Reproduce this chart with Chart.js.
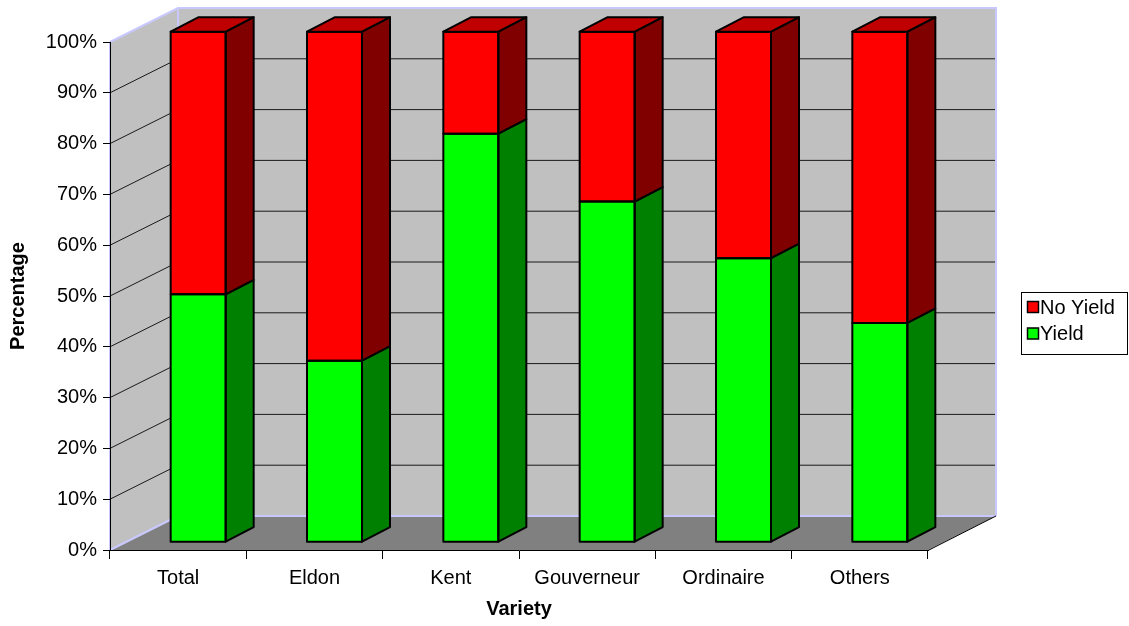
<!DOCTYPE html>
<html>
<head>
<meta charset="utf-8">
<script src="https://cdn.jsdelivr.net/npm/chart.js@4.4.1/dist/chart.umd.min.js"></script>
<style>
  html, body { margin: 0; padding: 0; background: #ffffff; }
  canvas { display: block; }
</style>
</head>
<body>
<canvas id="chart" width="1129" height="626"></canvas>
<script>
// ---- data ----
const categories = ['Total', 'Eldon', 'Kent', 'Gouverneur', 'Ordinaire', 'Others'];
const yieldPct   = [48.5, 35.5, 80.0, 66.7, 55.6, 42.9];
const noYieldPct = [51.5, 64.5, 20.0, 33.3, 44.4, 57.1];
const seriesNames = ['Yield', 'No Yield'];
const percentMin = 0;
const percentMax = 100;
const percentStep = 10;

// ---- 3D look ----
const WALL_DEPTH = { dx: 68, dy: -34 };   // front plane -> back wall
const BAR_DEPTH  = { dx: 28, dy: -14.5 }; // depth of each column
const BAR_SHIFT_X = 20;                   // column front face sits behind the axis plane
const BAR_BOTTOM_PX = 8.3;                // column base above the front floor edge
const PLOT_WIDTH = 818;
const PLOT_HEIGHT = 508;

const FONT = "'Liberation Sans', Arial, sans-serif";
Chart.defaults.font.family = FONT;
Chart.defaults.font.size = 20;
Chart.defaults.color = '#000000';

function poly(ctx, pts, fill, stroke, lw) {
  ctx.beginPath();
  ctx.moveTo(pts[0][0], pts[0][1]);
  for (let i = 1; i < pts.length; i++) ctx.lineTo(pts[i][0], pts[i][1]);
  ctx.closePath();
  if (fill) { ctx.fillStyle = fill; ctx.fill(); }
  if (stroke) { ctx.strokeStyle = stroke; ctx.lineWidth = lw || 1; ctx.lineJoin = 'round'; ctx.stroke(); }
}

// walls, floor, gridlines, column sides/tops and the legend box
const box3d = {
  id: 'box3d',
  beforeDraw(chart) {
    const { ctx, chartArea: a, scales } = chart;
    const y = scales.y;
    const { dx, dy } = WALL_DEPTH;
    const L = a.left, R = a.right;
    const T = y.getPixelForValue(percentMax), B = y.getPixelForValue(percentMin);
    ctx.save();
    poly(ctx, [[L + dx, T + dy], [R + dx, T + dy], [R + dx, B + dy], [L + dx, B + dy]], '#c0c0c0');
    poly(ctx, [[L, T], [L + dx, T + dy], [L + dx, B + dy], [L, B]], '#c0c0c0');
    poly(ctx, [[L, B], [L + dx, B + dy], [R + dx, B + dy], [R, B]], '#808080');

    // gridlines running along the side wall and across the back wall
    ctx.lineWidth = 1;
    ctx.strokeStyle = '#1a1a1a';
    y.ticks.forEach(t => {
      if (t.value <= percentMin || t.value >= percentMax) return;
      const py = y.getPixelForValue(t.value);
      ctx.beginPath();
      ctx.moveTo(L, py);
      ctx.lineTo(L + dx, py + dy);
      ctx.lineTo(R + dx, py + dy);
      ctx.stroke();
    });

    // wall borders
    ctx.strokeStyle = '#c8c8ff';
    ctx.lineWidth = 2;
    ctx.beginPath();
    ctx.moveTo(L, T); ctx.lineTo(L + dx, T + dy); ctx.lineTo(R + dx, T + dy); ctx.lineTo(R + dx, B + dy);
    ctx.moveTo(L + dx, T + dy); ctx.lineTo(L + dx, B + dy); ctx.lineTo(R + dx, B + dy);
    ctx.moveTo(L, B); ctx.lineTo(L + dx, B + dy);
    ctx.moveTo(L, T); ctx.lineTo(L, B);
    ctx.stroke();

    // right edge of the floor
    ctx.strokeStyle = '#000000';
    ctx.lineWidth = 1;
    ctx.beginPath();
    ctx.moveTo(R, B + 0.5); ctx.lineTo(R + dx, B + dy);
    ctx.stroke();
    ctx.restore();
  },
  afterDatasetsDraw(chart) {
    const { ctx } = chart;
    const metas = chart.getSortedVisibleDatasetMetas();
    const { dx, dy } = BAR_DEPTH;
    ctx.save();
    for (let i = 0; i < categories.length; i++) {
      metas.forEach((meta, k) => {
        const ds = chart.data.datasets[meta.index];
        const el = meta.data[i];
        const p = el.getProps(['x', 'y', 'base', 'width'], true);
        const left = p.x - p.width / 2, right = p.x + p.width / 2;
        const top = Math.min(p.y, p.base), bot = Math.max(p.y, p.base);
        poly(ctx, [[right, top], [right + dx, top + dy], [right + dx, bot + dy], [right, bot]], ds.sideColor, '#000', 2);
        poly(ctx, [[left, top], [right, top], [right, bot], [left, bot]], null, '#000', 2);
        if (k === metas.length - 1) {
          poly(ctx, [[left, top], [left + dx, top + dy], [right + dx, top + dy], [right, top]], ds.topColor, '#000', 2);
        }
      });
    }
    ctx.restore();
  },
  afterDraw(chart) {
    const { ctx } = chart;
    const items = chart.data.datasets.slice().reverse();
    const bx = 1021.5, by = 292.5, bw = 106, bh = 62;
    ctx.save();
    ctx.fillStyle = '#ffffff';
    ctx.fillRect(bx, by, bw, bh);
    ctx.strokeStyle = '#000';
    ctx.lineWidth = 1;
    ctx.strokeRect(bx, by, bw, bh);
    ctx.font = '20px ' + FONT;
    ctx.textBaseline = 'middle';
    ctx.textAlign = 'left';
    items.forEach((ds, i) => {
      const cy = 307 + i * 26.5;
      ctx.fillStyle = ds.backgroundColor;
      ctx.fillRect(1027.5, cy - 5.5, 11, 11);
      ctx.strokeStyle = '#000';
      ctx.lineWidth = 1.5;
      ctx.strokeRect(1027.5, cy - 5.5, 11, 11);
      ctx.fillStyle = '#000';
      ctx.fillText(ds.label, 1040, cy + 1);
    });
    ctx.restore();
  }
};

// hidden scales used to place the columns one step into the depth
const catStep = PLOT_WIDTH / categories.length;
const shiftIdx = BAR_SHIFT_X / catStep;
const barRange = (percentMax - percentMin) * PLOT_HEIGHT / (PLOT_HEIGHT + 2);
const barMin = -BAR_BOTTOM_PX * barRange / PLOT_HEIGHT;

const toPoints = arr => arr.map((v, i) => ({ x: i, y: v }));

new Chart(document.getElementById('chart'), {
  type: 'bar',
  data: {
    labels: categories,
    datasets: [
      {
        label: seriesNames[0],
        data: toPoints(yieldPct),
        backgroundColor: '#00ff00',
        sideColor: '#008000',
        topColor: '#00c000',
        borderWidth: 0,
        xAxisID: 'xb', yAxisID: 'yb',
        barThickness: 55,
        clip: false
      },
      {
        label: seriesNames[1],
        data: toPoints(noYieldPct),
        backgroundColor: '#ff0000',
        sideColor: '#800000',
        topColor: '#c00000',
        borderWidth: 0,
        xAxisID: 'xb', yAxisID: 'yb',
        barThickness: 55,
        clip: false
      }
    ]
  },
  options: {
    responsive: false,
    animation: false,
    devicePixelRatio: 1,
    layout: { padding: { top: 42, right: 201, bottom: 0, left: 0 } },
    plugins: { legend: { display: false }, tooltip: { enabled: false } },
    scales: {
      x: {
        type: 'category',
        offset: true,
        grid: { offset: true, drawOnChartArea: false, tickLength: 9, color: '#000', lineWidth: 1 },
        border: { display: true, color: '#000', width: 1 },
        ticks: { padding: 7, color: '#000', font: { size: 20 }, maxRotation: 0 },
        title: { display: true, text: 'Variety', font: { size: 20, weight: 'bold' }, padding: { top: 0, bottom: 5 } },
        afterFit(s) { s.height = 76; }
      },
      y: {
        type: 'linear',
        min: percentMin, max: percentMax,
        grid: { drawOnChartArea: false, tickLength: 7, color: '#000', lineWidth: 1 },
        border: { display: true, color: '#000', width: 1 },
        ticks: { stepSize: percentStep, padding: 6, color: '#000', font: { size: 20 }, callback: v => v + '%' },
        title: { display: true, text: 'Percentage', font: { size: 20, weight: 'bold' }, padding: { top: 6, bottom: 0 } },
        afterFit(s) { s.width = 110; }
      },
      xb: {
        type: 'linear', display: false, stacked: true, offset: false,
        min: -0.5 - shiftIdx, max: categories.length - 0.5 - shiftIdx
      },
      yb: {
        type: 'linear', display: false, stacked: true,
        min: barMin, max: barMin + barRange
      }
    }
  },
  plugins: [box3d]
});
</script>
</body>
</html>
